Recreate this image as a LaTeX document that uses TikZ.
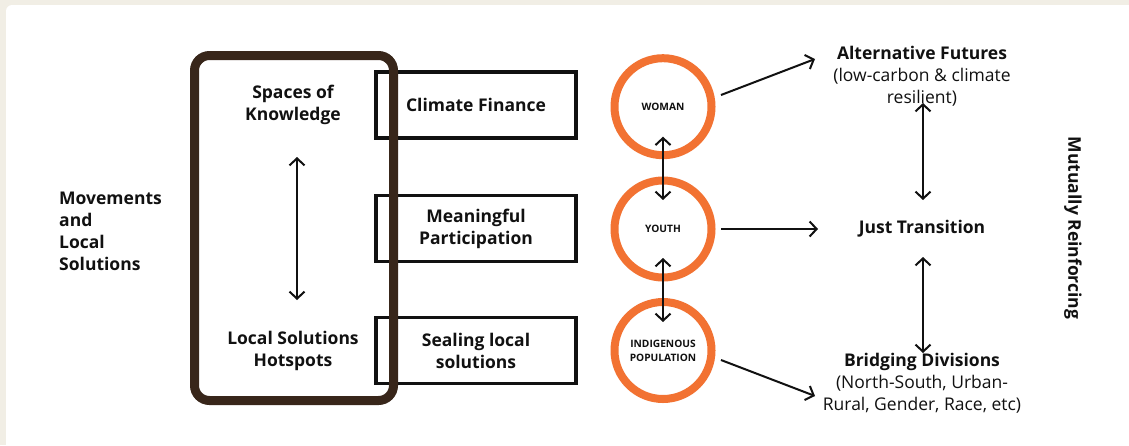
\documentclass[tikz,border=0pt]{standalone}
\usepackage{fontspec}
\setmainfont{Open Sans}
\usetikzlibrary{arrows.meta}
\definecolor{beige}{HTML}{F1EEE5}
\definecolor{darkbrown}{HTML}{38261A}
\definecolor{ring}{HTML}{F27232}
\definecolor{ink}{HTML}{111111}
\newcommand{\bigsize}{\fontsize{17.5}{22}\selectfont}
\begin{document}
\begin{tikzpicture}[x=1pt,y=-1pt,
  every node/.style={text=ink},
  ttl/.style={font=\bigsize\bfseries, align=center, inner sep=0},
  sub/.style={font=\bigsize, align=center, inner sep=0},
  boxnode/.style={draw=ink, line width=3.5, fill=white, minimum width=200, minimum height=66, inner sep=0,
    font=\bigsize\bfseries, align=center},
  ringnode/.style={circle, draw=ring, line width=8, fill=white, minimum size=97, inner sep=0,
    font=\fontsize{10.2}{14}\selectfont\bfseries, align=center},
  arr/.style={draw=ink, line width=2, -{Straight Barb[length=7pt,width=15pt,line width=2pt]}},
  darr/.style={draw=ink, line width=2, {Straight Barb[length=7pt,width=15pt,line width=2pt]}-{Straight Barb[length=7pt,width=15pt,line width=2pt]}}
]
\useasboundingbox (0,0) rectangle (1129,445);
\clip (0,0) rectangle (1129,445);
\fill[beige] (0,0) rectangle (1129,445);
\fill[white, rounded corners=6] (6,5) rectangle (1150,470);

% left label
\node[font=\bigsize\bfseries, align=left, anchor=west, inner sep=0] (mov) at (59,231)
  {Movements\\and\\Local\\Solutions};

% boxes
\node[boxnode] (cf) at (476,105) {Climate Finance};
\node[boxnode] (mp) at (476,228.5) {Meaningful\\Participation};
\node[boxnode] (sl) at (476,350.5) {Sealing local\\solutions};

% brown group frame
\node[draw=darkbrown, line width=9, rounded corners=15, minimum width=199, minimum height=345, inner sep=0] (grp) at (294,228) {};

\node[ttl] (spaces) at (293,105) {Spaces of\\Knowledge};
\node[ttl] (hot) at (293,351) {Local Solutions\\Hotspots};
\draw[darr, shorten <=52, shorten >=51] ([shift={(4,0)}]spaces.center) -- ([shift={(4,0)}]hot.center);

% rings
\node[ringnode] (woman) at (663,106.7) {WOMAN};
\node[ringnode] (youth) at (663,229) {YOUTH};
\node[ringnode] (indig) at (663,350.5) {INDIGENOUS\\POPULATION};
\draw[darr, shorten <=30, shorten >=29] (woman.center) -- (youth.center);
\draw[darr, shorten <=29, shorten >=28.5] (youth.center) -- (indig.center);

% outcomes
\node[sub] (alt) at (922,76)
  {\textbf{Alternative Futures}\\(low-carbon \& climate\\resilient)};
\node[ttl] (just) at (922,229) {Just Transition};
\node[sub] (brid) at (922,383)
  {\textbf{Bridging Divisions}\\(North-South, Urban-\\Rural, Gender, Race, etc)};

\draw[arr] ([shift={(58,-11.7)}]woman.center) -- ([shift={(-107,-17)}]alt.center);
\draw[arr] ([shift={(58,0)}]youth.center) -- ([shift={(-104,0)}]just.center);
\draw[arr] ([shift={(58,9.5)}]indig.center) -- ([shift={(-107,13)}]brid.center);

\draw[darr, shorten <=27, shorten >=29] ([shift={(1,0)}]alt.center) -- ([shift={(1,0)}]just.center);
\draw[darr, shorten <=28, shorten >=30] ([shift={(1,0)}]just.center) -- ([shift={(1,0)}]brid.center);

\node[ttl, rotate=-90] (mutual) at (1073,228) {Mutually Reinforcing};
\end{tikzpicture}
\end{document}
